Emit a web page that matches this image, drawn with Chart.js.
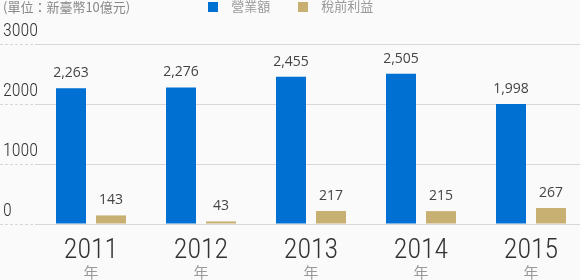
<!DOCTYPE html>
<html><head><meta charset="utf-8">
<script src="https://cdn.jsdelivr.net/npm/chart.js@4.4.1/dist/chart.umd.min.js"></script>
<style>
html,body{margin:0;padding:0;background:#fafafa;overflow:hidden;}
#wrap{position:relative;width:580px;height:280px;overflow:hidden;background:#fafafa;}
#unit{position:absolute;left:3px;top:-1px;font:13px "Noto Sans CJK TC",sans-serif;color:#888;line-height:16px;white-space:nowrap;}
canvas{position:absolute;left:0;top:0;}
</style></head><body>
<div id="wrap"><canvas id="c" width="586" height="300"></canvas><div id="unit">(單位：新臺幣10億元)</div></div>
<script>
const categories = ['2011', '2012', '2013', '2014', '2015'];
const yearSuffix = ['年', '年', '年', '年', '年'];
const seriesNames = ['營業額', '稅前利益'];
const revenue = [2263, 2276, 2455, 2505, 1998];
const pretaxProfit = [143, 43, 217, 215, 267];
const yTicks = [0, 1000, 2000, 3000];

const BLUE = '#0070d2';
const GOLD = '#c8b073';
const NARROW = '"Roboto Condensed", "Noto Sans", "DejaVu Sans Condensed", sans-serif';
const NARROW_W = '300 condensed';
const LEG_DX = -7, LEG_DY = -21.5;

function swatch(color) {
  const c = document.createElement('canvas');
  c.width = 10; c.height = 10;
  const g = c.getContext('2d');
  g.fillStyle = color; g.fillRect(0, 0, 10, 10);
  return c;
}

const valueLabels = {
  id: 'valueLabels',
  afterDatasetsDraw(chart) {
    const ctx = chart.ctx;
    ctx.save();
    ctx.font = '14px "Open Sans", sans-serif';
    ctx.fillStyle = '#444';
    ctx.textAlign = 'center';
    ctx.textBaseline = 'alphabetic';
    chart.data.datasets.forEach((ds, di) => {
      const meta = chart.getDatasetMeta(di);
      meta.data.forEach((el, i) => {
        ctx.fillText(ds.data[i].toLocaleString('en-US'), el.x, el.y - 11);
      });
    });
    ctx.restore();
  }
};

const legendShift = {
  id: 'legendShift',
  afterLayout(chart) {
    const l = chart.legend;
    l.left += LEG_DX; l.right += LEG_DX;
    l.top += LEG_DY; l.bottom += LEG_DY;
  }
};

new Chart(document.getElementById('c'), {
  type: 'bar',
  data: {
    labels: categories,
    datasets: [
      { label: seriesNames[0], data: revenue, backgroundColor: BLUE, pointStyle: swatch(BLUE) },
      { label: seriesNames[1], data: pretaxProfit, backgroundColor: GOLD, pointStyle: swatch(GOLD) }
    ]
  },
  options: {
    responsive: false,
    animation: false,
    categoryPercentage: 80 / 110,
    barPercentage: 0.75,
    layout: { padding: { left: 3, right: 0, top: 0, bottom: 13 } },
    plugins: {
      tooltip: { enabled: false },
      legend: {
        position: 'top',
        maxHeight: 44,
        labels: {
          usePointStyle: true,
          pointStyleWidth: 23,
          boxHeight: 10,
          padding: 21.5,
          color: '#999',
          font: { family: '"Noto Sans CJK TC", sans-serif', size: 13 }
        }
      }
    },
    scales: {
      x: {
        position: 'bottom',
        weight: 0,
        offset: true,
        grid: { display: false, drawTicks: true, tickLength: 20 },
        border: { display: false },
        ticks: { color: '#333', padding: 0, font: { family: NARROW, weight: NARROW_W, size: 28, lineHeight: 0.5 } }
      },
      x2: {
        type: 'category',
        position: 'bottom',
        weight: 1,
        labels: yearSuffix,
        offset: true,
        grid: { display: false, drawTicks: false },
        border: { display: false },
        ticks: { color: '#999', padding: 7, font: { family: '"Noto Sans CJK TC", sans-serif', size: 15, lineHeight: 1 } }
      },
      y: {
        position: 'left',
        min: 0,
        max: 3000,
        afterBuildTicks(scale) { scale.ticks = yTicks.map(v => ({ value: v })); },
        afterFit(scale) { scale.width = 33; },
        border: { display: false },
        grid: {
          color: '#d8d8d8',
          lineWidth: 1,
          borderDash: [3, 2],
          drawTicks: true,
          tickLength: 36,
          tickBorderDash: [3, 2],
          tickColor: '#d8d8d8'
        },
        ticks: {
          mirror: true,
          crossAlign: 'near',
          padding: -33,
          labelOffset: -13,
          color: '#333',
          font: { family: NARROW, weight: NARROW_W, size: 18 },
          callback: (v) => String(v)
        }
      }
    }
  },
  plugins: [valueLabels, legendShift]
});
</script>
</body></html>
